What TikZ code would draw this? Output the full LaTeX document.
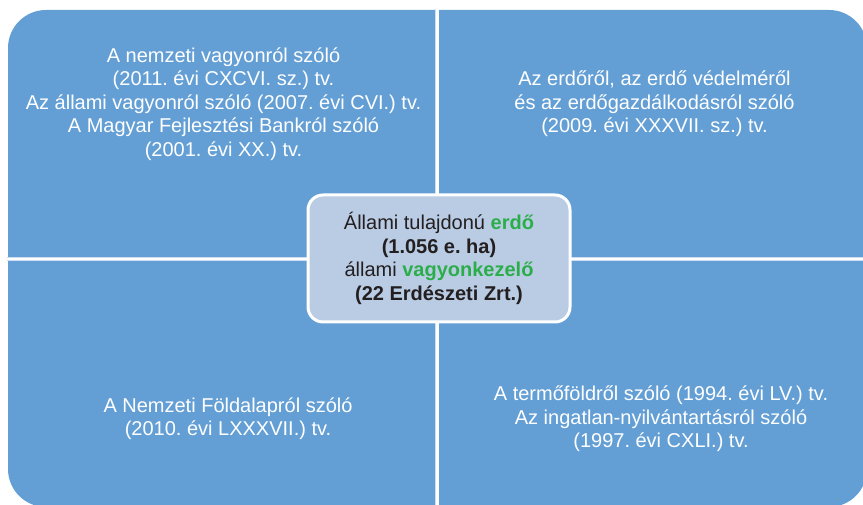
\documentclass[tikz,border=0pt]{standalone}
\usepackage{fontspec}
\setmainfont{Liberation Sans}
\frenchspacing
\definecolor{quad}{RGB}{99,159,213}
\definecolor{centerfill}{RGB}{185,204,228}
\definecolor{gapedge}{RGB}{205,222,242}
\definecolor{ink}{RGB}{35,31,32}
\definecolor{leaf}{RGB}{43,174,74}
\tikzset{
  qtext/.style={text=white, align=center, inner sep=0pt, font=\fontsize{20}{23.5}\selectfont\frenchspacing},
  hub/.style={fill=centerfill, draw=white, line width=3pt, rounded corners=15pt,
     minimum width=262pt, minimum height=127pt, align=center, text=ink,
     font=\fontsize{20}{23.5}\selectfont\frenchspacing, inner sep=0pt},
  gapline/.style={line width=4pt, draw=gapedge},
  gapcore/.style={line width=2.4pt, draw=white}
}
\begin{document}
\begin{tikzpicture}[x=1pt,y=1pt]
\useasboundingbox (0,0) rectangle (863,505);
\clip (0,0) rectangle (863,505);
\fill[quad, rounded corners=38pt] (8,-2) rectangle (867,495);
\coordinate (vt) at (437.3,496);
\coordinate (vb) at (437.3,-3);
\coordinate (hl) at (7,245.7);
\coordinate (hr) at (868,245.7);
\draw[gapline] (vt) -- (vb);
\draw[gapline] (hl) -- (hr);
\draw[gapcore] (vt) -- (vb);
\draw[gapcore] (hl) -- (hr);
\node[qtext] (tl) at (223.5,401) {A nemzeti vagyonról szóló\\(2011. évi CXCVI. sz.) tv.\\Az állami vagyonról szóló (2007. évi CVI.) tv.\\A Magyar Fejlesztési Bankról szóló\\(2001. évi XX.) tv.};
\node[qtext] (tr) at (654.5,401) {Az erdőről, az erdő védelméről\\és az erdőgazdálkodásról szóló\\(2009. évi XXXVII. sz.) tv.};
\node[qtext] (bl) at (228,86.5) {A Nemzeti Földalapról szóló\\(2010. évi LXXXVII.) tv.};
\node[qtext] (br) at (661,86) {A termőföldről szóló (1994. évi LV.) tv.\\Az ingatlan-nyilvántartásról szóló\\(1997. évi CXLI.) tv.};
\node[hub] (hub) at (439,246.5) {Állami tulajdonú \textcolor{leaf}{\bfseries erdő}\\\bfseries(1.056 e. ha)\\állami \textcolor{leaf}{\bfseries vagyonkezelő}\\\bfseries(22 Erdészeti Zrt.)};
\end{tikzpicture}
\end{document}
